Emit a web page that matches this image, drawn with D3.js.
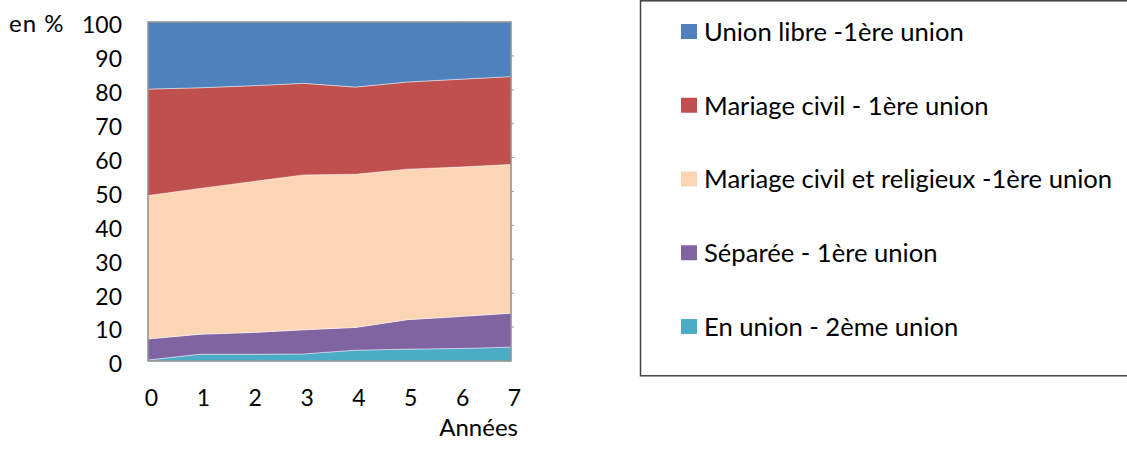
<!DOCTYPE html>
<html>
<head>
<meta charset="utf-8">
<script src="https://cdn.jsdelivr.net/npm/d3@7"></script>
<style>
  html, body { margin: 0; padding: 0; background: #fff; }
  svg { display: block; }
  text { font-family: Lato, "Open Sans", sans-serif; fill: #000; }
</style>
</head>
<body>
<svg id="chart" width="1127" height="449"></svg>
<script>
// Years since first union (x axis)
const years = [0, 1, 2, 3, 4, 5, 6, 7];

// Share of each union status, in %, stacked bottom to top
const enUnion2eme        = [0.3, 2.0, 2.0, 2.1, 3.2, 3.5, 3.7, 4.1];
const separee1ere        = [6.2, 5.9, 6.4, 7.1, 6.7, 8.7, 9.4, 10.0];
const mariageCivilRelig  = [42.3, 43.0, 44.5, 45.7, 45.2, 44.4, 44.1, 43.9];
const mariageCivil1ere   = [31.4, 29.7, 28.3, 27.0, 25.7, 25.7, 25.9, 25.9];
const unionLibre1ere     = [19.8, 19.4, 18.8, 18.1, 19.2, 17.7, 16.9, 16.1];

const seriesNames = [
  "En union - 2ème union",
  "Séparée - 1ère union",
  "Mariage civil et religieux -1ère union",
  "Mariage civil - 1ère union",
  "Union libre -1ère union"
];
const seriesValues = [enUnion2eme, separee1ere, mariageCivilRelig, mariageCivil1ere, unionLibre1ere];
const seriesColors = ["#4BACC6", "#8064A2", "#FCD5B5", "#C0504D", "#4F81BD"];

const yTicks = [0, 10, 20, 30, 40, 50, 60, 70, 80, 90, 100];

const svg = d3.select("#chart");

const x = d3.scaleLinear().domain([0, 7]).range([148, 511]);
const y = d3.scaleLinear().domain([0, 100]).range([361, 22]);

// Rows for d3.stack
const rows = years.map((yr, i) => {
  const r = { year: yr };
  seriesNames.forEach((n, k) => { r[n] = seriesValues[k][i]; });
  return r;
});
const stacked = d3.stack().keys(seriesNames)(rows);

const area = d3.area()
  .x(d => x(d.data.year))
  .y0(d => y(d[0]))
  .y1(d => y(d[1]));

svg.append("g")
  .selectAll("path")
  .data(stacked)
  .join("path")
  .attr("d", area)
  .attr("fill", (d, i) => seriesColors[i])
  .attr("stroke", "#ffffff")
  .attr("stroke-opacity", 0.55)
  .attr("stroke-width", 0.8);

// Plot frame
svg.append("rect")
  .attr("x", x(0)).attr("y", y(100))
  .attr("width", x(7) - x(0)).attr("height", y(0) - y(100))
  .attr("fill", "none")
  .attr("stroke", "#8c8c8c")
  .attr("stroke-width", 1.5);

// Small marks on the right edge
svg.append("g")
  .selectAll("line")
  .data(yTicks.slice(1, -1))
  .join("line")
  .attr("x1", x(7)).attr("x2", x(7) + 3)
  .attr("y1", d => y(d)).attr("y2", d => y(d))
  .attr("stroke", "#9a9a9a").attr("stroke-width", 1);

// Y axis labels
const yAxis = d3.axisLeft(y).tickValues(yTicks).tickSize(0).tickPadding(26);
const gy = svg.append("g").attr("transform", `translate(${x(0)},0)`).call(yAxis);
gy.select(".domain").remove();
gy.selectAll("text")
  .attr("font-size", 23)
  .attr("font-family", "Lato, 'Open Sans', sans-serif")
  .attr("dy", "0.34em")
  .attr("y", 3);

// X axis labels
const xAxis = d3.axisBottom(x).tickValues(years).tickSize(0).tickPadding(29).tickFormat(d3.format("d"));
const gx = svg.append("g").attr("transform", `translate(0,${y(0)})`).call(xAxis);
gx.select(".domain").remove();
gx.selectAll("text")
  .attr("font-size", 23)
  .attr("font-family", "Lato, 'Open Sans', sans-serif")
  .attr("x", 3);

// Axis titles
svg.append("text")
  .attr("x", 9).attr("y", 24).attr("dy", "0.35em")
  .attr("font-size", 24)
  .attr("letter-spacing", 1)
  .text("en %");

svg.append("text")
  .attr("x", 518).attr("y", 428).attr("dy", "0.35em")
  .attr("text-anchor", "end")
  .attr("font-size", 24)
  .text("Années");

// Legend
const legend = svg.append("g");
legend.append("rect")
  .attr("x", 640.5).attr("y", 0.8)
  .attr("width", 520).attr("height", 375)
  .attr("fill", "#fff")
  .attr("stroke", "#404040")
  .attr("stroke-width", 1.5);

const legendOrder = [4, 3, 2, 1, 0];
const legendY = d3.scalePoint().domain(legendOrder).range([32, 327]);

const items = legend.selectAll("g.item")
  .data(legendOrder)
  .join("g")
  .attr("class", "item")
  .attr("transform", k => `translate(0,${legendY(k)})`);

items.append("rect")
  .attr("x", 681).attr("y", -8)
  .attr("width", 16).attr("height", 15)
  .attr("fill", k => seriesColors[k]);

items.append("text")
  .attr("x", 704).attr("y", 0).attr("dy", "0.35em")
  .attr("font-size", 25.6)
  .text(k => seriesNames[k]);
</script>
</body>
</html>
